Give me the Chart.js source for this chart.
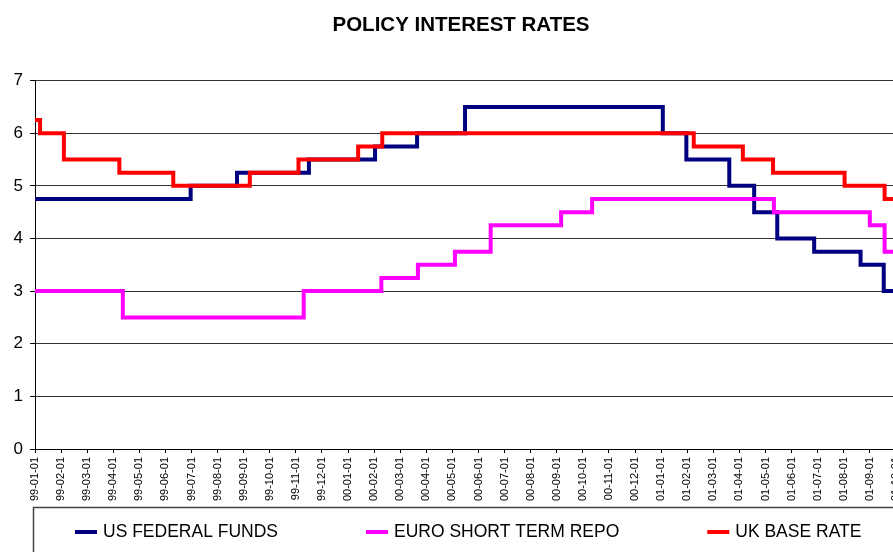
<!DOCTYPE html>
<html>
<head>
<meta charset="utf-8">
<title>Policy interest rates</title>
<script src="https://cdn.jsdelivr.net/npm/chart.js@4/dist/chart.umd.min.js"></script>
<style>
  html, body { margin: 0; padding: 0; background: #fff; overflow: hidden; }
  canvas { display: block; }
</style>
</head>
<body>
<canvas id="rates" width="922" height="575"></canvas>
<script>
// month tick labels (yy-mm-dd)
const tickLabels = [
  '99-01-01','99-02-01','99-03-01','99-04-01','99-05-01','99-06-01','99-07-01','99-08-01','99-09-01','99-10-01','99-11-01','99-12-01',
  '00-01-01','00-02-01','00-03-01','00-04-01','00-05-01','00-06-01','00-07-01','00-08-01','00-09-01','00-10-01','00-11-01','00-12-01',
  '01-01-01','01-02-01','01-03-01','01-04-01','01-05-01','01-06-01','01-07-01','01-08-01','01-09-01','01-10-01','01-11-01'
];

// rate change dates and the new level from that date
const usDates = ['99-01-01','99-06-30','99-08-24','99-11-16','00-02-02','00-03-21','00-05-16','01-01-03','01-01-31','01-03-20','01-04-18','01-05-15','01-06-27','01-08-21','01-09-17','01-10-01'];
const usRates = [4.75, 5.0, 5.25, 5.5, 5.75, 6.0, 6.5, 6.0, 5.5, 5.0, 4.5, 4.0, 3.75, 3.5, 3.0, 3.0];

const euroDates = ['99-01-01','99-04-12','99-11-10','00-02-09','00-03-22','00-05-04','00-06-15','00-09-06','00-10-12','01-05-11','01-09-01','01-09-18','01-10-01'];
const euroRates = [3.0, 2.5, 3.0, 3.25, 3.5, 3.75, 4.25, 4.5, 4.75, 4.5, 4.25, 3.75, 3.75];

const ukDates = ['99-01-01','99-01-07','99-02-04','99-04-08','99-06-10','99-09-08','99-11-04','00-01-13','00-02-10','01-02-08','01-04-05','01-05-10','01-08-02','01-09-18','01-10-01'];
const ukRates = [6.25, 6.0, 5.5, 5.25, 5.0, 5.25, 5.5, 5.75, 6.0, 5.75, 5.5, 5.25, 5.0, 4.75, 4.75];

const FONT = 'Arial, "Liberation Sans", sans-serif';

// date string -> months since 99-01-01 (fractional)
const monthPos = s => {
  const [yy, mm, dd] = s.split('-').map(Number);
  const year = yy > 50 ? 1900 + yy : 2000 + yy;
  const days = new Date(year, mm, 0).getDate();
  return (year - 1999) * 12 + (mm - 1) + (dd - 1) / days;
};
const toPoints = (dates, rates) => dates.map((d, i) => ({ x: monthPos(d), y: rates[i] }));

const series = (label, dates, rates, color, order) => ({
  label,
  data: toPoints(dates, rates),
  borderColor: color,
  backgroundColor: color,
  borderWidth: 4,
  pointRadius: 0,
  stepped: true,
  order
});

// legend drawn in a framed box under the axis, like the spreadsheet original
const legendBox = {
  id: 'legendBox',
  afterDraw(chart) {
    const ctx = chart.ctx;
    const top = chart.chartArea.bottom + 58;
    ctx.save();
    ctx.strokeStyle = '#444';
    ctx.lineWidth = 1.5;
    ctx.strokeRect(33.5, top + 0.5, chart.width, chart.height);
    ctx.font = '17.5px ' + FONT;
    ctx.textBaseline = 'middle';
    let x = 75;
    const y = top + 25;
    chart.data.datasets.forEach(ds => {
      ctx.fillStyle = ds.borderColor;
      ctx.fillRect(x, y - 2, 22, 4);
      ctx.fillStyle = '#000';
      ctx.fillText(ds.label, x + 28, y);
      x += 28 + ctx.measureText(ds.label).width + 88;
    });
    ctx.restore();
  }
};

new Chart(document.getElementById('rates'), {
  type: 'line',
  data: {
    datasets: [
      series('US FEDERAL FUNDS', usDates, usRates, '#000080', 2),
      series('EURO SHORT TERM REPO', euroDates, euroRates, '#FF00FF', 1),
      series('UK BASE RATE', ukDates, ukRates, '#FF0000', 0)
    ]
  },
  plugins: [legendBox],
  options: {
    responsive: false,
    animation: false,
    layout: { padding: { top: 0, left: 0, right: 0, bottom: 68 } },
    plugins: {
      legend: { display: false },
      tooltip: { enabled: false },
      title: {
        display: true,
        text: 'POLICY INTEREST RATES',
        color: '#000',
        font: { family: FONT, size: 20.5, weight: 'bold' },
        padding: { top: 13, bottom: 43 }
      }
    },
    scales: {
      x: {
        type: 'linear',
        min: 0,
        max: 34,
        afterFit: s => { s.height = 58; s.paddingLeft = 0; s.paddingRight = 0; },
        grid: { drawOnChartArea: false, drawTicks: true, tickLength: 4, color: '#000' },
        border: { color: '#000', width: 1 },
        ticks: {
          stepSize: 1,
          autoSkip: false,
          minRotation: 90,
          maxRotation: 90,
          padding: 4,
          color: '#000',
          font: { family: FONT, size: 11 },
          callback: v => tickLabels[v] || ''
        }
      },
      y: {
        min: 0,
        max: 7,
        afterFit: s => { s.width = 35; },
        grid: { color: '#333', lineWidth: 1, tickLength: 5, tickColor: '#000' },
        border: { color: '#000', width: 1 },
        ticks: {
          stepSize: 1,
          padding: 7,
          color: '#000',
          font: { family: FONT, size: 17 }
        }
      }
    }
  }
});
</script>
</body>
</html>
